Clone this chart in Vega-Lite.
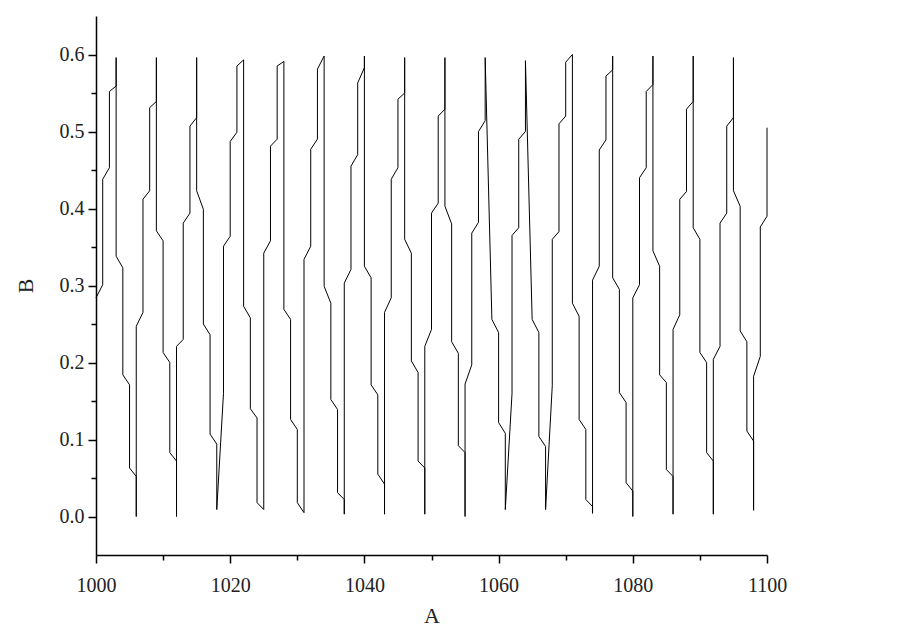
{
  "$schema": "https://vega.github.io/schema/vega-lite/v6.json",
  "width": 671,
  "height": 539,
  "autosize": {"type": "none"},
  "padding": {"left": 96, "top": 16, "right": 133, "bottom": 76},
  "background": "white",
  "config": {
    "view": {"stroke": null},
    "axis": {
      "grid": false,
      "domainColor": "#000",
      "domainWidth": 1.5,
      "tickColor": "#000",
      "tickWidth": 1.5,
      "labelFont": "Liberation Serif",
      "labelFontSize": 20,
      "labelColor": "#222",
      "titleFont": "Liberation Serif",
      "titleFontSize": 22,
      "titleFontWeight": "normal",
      "titleColor": "#222"
    }
  },
  "data": {"values": [
    {"A":1000,"B":0.284},{"A":1001,"B":0.301},{"A":1001,"B":0.438},{"A":1002,"B":0.453},{"A":1002,"B":0.552},{"A":1003,"B":0.559},{"A":1003,"B":0.596},{"A":1003,"B":0.338},{"A":1004,"B":0.323},{"A":1004,"B":0.184},{"A":1005,"B":0.171},{"A":1005,"B":0.063},{"A":1006,"B":0.052},{"A":1006,"B":0.0},{"A":1006,"B":0.247},{"A":1007,"B":0.265},{"A":1007,"B":0.412},{"A":1008,"B":0.423},{"A":1008,"B":0.531},{"A":1009,"B":0.539},{"A":1009,"B":0.596},{"A":1009,"B":0.371},{"A":1010,"B":0.358},{"A":1010,"B":0.213},{"A":1011,"B":0.2},{"A":1011,"B":0.083},{"A":1012,"B":0.072},{"A":1012,"B":0.0},{"A":1012,"B":0.221},{"A":1013,"B":0.23},{"A":1013,"B":0.381},{"A":1014,"B":0.394},{"A":1014,"B":0.507},{"A":1015,"B":0.518},{"A":1015,"B":0.596},{"A":1015,"B":0.423},{"A":1016,"B":0.399},{"A":1016,"B":0.25},{"A":1017,"B":0.236},{"A":1017,"B":0.107},{"A":1018,"B":0.094},{"A":1018,"B":0.009},{"A":1019,"B":0.16},{"A":1019,"B":0.351},{"A":1020,"B":0.364},{"A":1020,"B":0.487},{"A":1021,"B":0.499},{"A":1021,"B":0.585},{"A":1022,"B":0.593},{"A":1022,"B":0.273},{"A":1023,"B":0.258},{"A":1023,"B":0.14},{"A":1024,"B":0.128},{"A":1024,"B":0.018},{"A":1025,"B":0.009},{"A":1025,"B":0.342},{"A":1026,"B":0.358},{"A":1026,"B":0.481},{"A":1027,"B":0.49},{"A":1027,"B":0.585},{"A":1028,"B":0.591},{"A":1028,"B":0.269},{"A":1029,"B":0.256},{"A":1029,"B":0.126},{"A":1030,"B":0.113},{"A":1030,"B":0.018},{"A":1031,"B":0.005},{"A":1031,"B":0.334},{"A":1032,"B":0.351},{"A":1032,"B":0.477},{"A":1033,"B":0.49},{"A":1033,"B":0.581},{"A":1034,"B":0.598},{"A":1034,"B":0.299},{"A":1035,"B":0.277},{"A":1035,"B":0.152},{"A":1036,"B":0.139},{"A":1036,"B":0.031},{"A":1037,"B":0.022},{"A":1037,"B":0.003},{"A":1037,"B":0.303},{"A":1038,"B":0.321},{"A":1038,"B":0.455},{"A":1039,"B":0.47},{"A":1039,"B":0.563},{"A":1040,"B":0.583},{"A":1040,"B":0.598},{"A":1040,"B":0.325},{"A":1041,"B":0.31},{"A":1041,"B":0.171},{"A":1042,"B":0.158},{"A":1042,"B":0.055},{"A":1043,"B":0.042},{"A":1043,"B":0.003},{"A":1043,"B":0.265},{"A":1044,"B":0.284},{"A":1044,"B":0.438},{"A":1045,"B":0.453},{"A":1045,"B":0.542},{"A":1046,"B":0.55},{"A":1046,"B":0.596},{"A":1046,"B":0.36},{"A":1047,"B":0.342},{"A":1047,"B":0.202},{"A":1048,"B":0.187},{"A":1048,"B":0.072},{"A":1049,"B":0.063},{"A":1049,"B":0.003},{"A":1049,"B":0.221},{"A":1050,"B":0.243},{"A":1050,"B":0.394},{"A":1051,"B":0.407},{"A":1051,"B":0.52},{"A":1052,"B":0.529},{"A":1052,"B":0.596},{"A":1052,"B":0.403},{"A":1053,"B":0.38},{"A":1053,"B":0.227},{"A":1054,"B":0.212},{"A":1054,"B":0.092},{"A":1055,"B":0.083},{"A":1055,"B":0.0},{"A":1055,"B":0.172},{"A":1056,"B":0.197},{"A":1056,"B":0.368},{"A":1057,"B":0.382},{"A":1057,"B":0.5},{"A":1058,"B":0.514},{"A":1058,"B":0.596},{"A":1059,"B":0.256},{"A":1060,"B":0.239},{"A":1060,"B":0.122},{"A":1061,"B":0.108},{"A":1061,"B":0.009},{"A":1062,"B":0.16},{"A":1062,"B":0.365},{"A":1063,"B":0.375},{"A":1063,"B":0.49},{"A":1064,"B":0.5},{"A":1064,"B":0.592},{"A":1065,"B":0.256},{"A":1066,"B":0.239},{"A":1066,"B":0.104},{"A":1067,"B":0.091},{"A":1067,"B":0.009},{"A":1068,"B":0.17},{"A":1068,"B":0.36},{"A":1069,"B":0.37},{"A":1069,"B":0.51},{"A":1070,"B":0.52},{"A":1070,"B":0.59},{"A":1071,"B":0.6},{"A":1071,"B":0.277},{"A":1072,"B":0.26},{"A":1072,"B":0.126},{"A":1073,"B":0.113},{"A":1073,"B":0.022},{"A":1074,"B":0.013},{"A":1074,"B":0.004},{"A":1074,"B":0.307},{"A":1075,"B":0.325},{"A":1075,"B":0.476},{"A":1076,"B":0.489},{"A":1076,"B":0.572},{"A":1077,"B":0.58},{"A":1077,"B":0.598},{"A":1077,"B":0.31},{"A":1078,"B":0.295},{"A":1078,"B":0.161},{"A":1079,"B":0.148},{"A":1079,"B":0.044},{"A":1080,"B":0.033},{"A":1080,"B":0.0},{"A":1080,"B":0.284},{"A":1081,"B":0.301},{"A":1081,"B":0.44},{"A":1082,"B":0.453},{"A":1082,"B":0.552},{"A":1083,"B":0.561},{"A":1083,"B":0.598},{"A":1083,"B":0.345},{"A":1084,"B":0.325},{"A":1084,"B":0.184},{"A":1085,"B":0.174},{"A":1085,"B":0.061},{"A":1086,"B":0.052},{"A":1086,"B":0.003},{"A":1086,"B":0.243},{"A":1087,"B":0.262},{"A":1087,"B":0.412},{"A":1088,"B":0.422},{"A":1088,"B":0.529},{"A":1089,"B":0.539},{"A":1089,"B":0.598},{"A":1089,"B":0.375},{"A":1090,"B":0.36},{"A":1090,"B":0.213},{"A":1091,"B":0.2},{"A":1091,"B":0.083},{"A":1092,"B":0.072},{"A":1092,"B":0.003},{"A":1092,"B":0.204},{"A":1093,"B":0.221},{"A":1093,"B":0.381},{"A":1094,"B":0.394},{"A":1094,"B":0.507},{"A":1095,"B":0.518},{"A":1095,"B":0.596},{"A":1095,"B":0.423},{"A":1096,"B":0.403},{"A":1096,"B":0.241},{"A":1097,"B":0.227},{"A":1097,"B":0.111},{"A":1098,"B":0.098},{"A":1098,"B":0.008},{"A":1098,"B":0.182},{"A":1099,"B":0.208},{"A":1099,"B":0.376},{"A":1100,"B":0.39},{"A":1100,"B":0.505}
  ]},
  "layer": [
    {
      "mark": {"type": "line", "color": "#000", "strokeWidth": 1, "clip": false},
      "encoding": {
        "x": {"field": "A", "type": "quantitative", "scale": {"domain": [1000, 1100], "nice": false, "zero": false},
          "axis": {"orient": "bottom", "title": "A", "values": [1000, 1020, 1040, 1060, 1080, 1100], "format": "d", "tickSize": 8, "labelPadding": 12, "titlePadding": 10, "labelFlush": false}},
        "y": {"field": "B", "type": "quantitative", "scale": {"domain": [-0.05, 0.65], "nice": false, "zero": false},
          "axis": {"orient": "left", "title": "B", "values": [0, 0.1, 0.2, 0.3, 0.4, 0.5, 0.6], "format": ".1f", "tickSize": 8, "labelPadding": 4, "titlePadding": 22}},
        "order": {"value": null}
      }
    },
    {
      "mark": {"type": "point", "opacity": 0},
      "encoding": {
        "x": {"field": "A", "type": "quantitative",
          "axis": {"orient": "bottom", "title": null, "values": [1010, 1030, 1050, 1070, 1090], "labels": false, "domain": false, "tickSize": 5}},
        "y": {"field": "B", "type": "quantitative",
          "axis": {"orient": "left", "title": null, "values": [0.05, 0.15, 0.25, 0.35, 0.45, 0.55], "labels": false, "domain": false, "tickSize": 5}}
      }
    }
  ],
  "resolve": {"axis": {"x": "independent", "y": "independent"}}
}
